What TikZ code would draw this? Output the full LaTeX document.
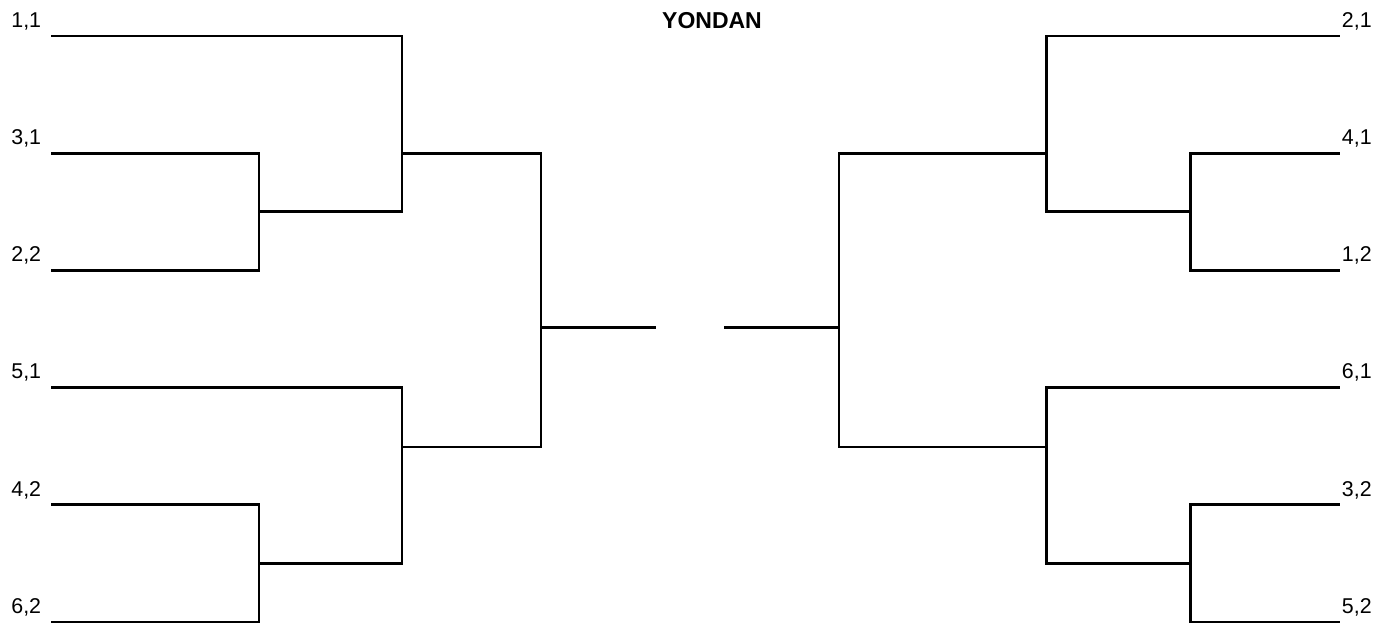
\documentclass[tikz,border=0pt]{standalone}
\usepackage{fontspec}
\setmainfont{Liberation Sans}
\begin{document}
\begin{tikzpicture}[x=0.5pt,y=-0.5pt,
  br/.style={line width=1.45pt,line join=miter,black},
  lbl/.style={inner sep=0pt,font=\fontsize{10.7pt}{12pt}\selectfont},
  lleft/.style={lbl,anchor=base west},
  ttl/.style={inner sep=0pt,anchor=base,font=\fontsize{11.5pt}{13pt}\selectfont\bfseries}]
\useasboundingbox (0,0) rectangle (1384,625);
% title
\node[ttl] (title) at (712,28.3) {YONDAN};
% left entry points
\coordinate (a1) at (51,36);
\coordinate (a2) at (51,153.2);
\coordinate (a3) at (51,270.4);
\coordinate (a4) at (51,387.6);
\coordinate (a5) at (51,504.8);
\coordinate (a6) at (51,622);
% right entry points
\coordinate (b1) at (1339.5,36);
\coordinate (b2) at (1339.5,153.2);
\coordinate (b3) at (1339.5,270.4);
\coordinate (b4) at (1339.5,387.6);
\coordinate (b5) at (1339.5,504.8);
\coordinate (b6) at (1339.5,622);
% junctions left
\coordinate (la1) at (259,211.8);
\coordinate (la2) at (259,563.4);
\coordinate (lb1) at (402,153.2);
\coordinate (lb2) at (402,447);
\coordinate (lc) at (541,327.5);
\coordinate (lend) at (656,327.5);
% junctions right
\coordinate (ra1) at (1190.5,211.8);
\coordinate (ra2) at (1190.5,563.4);
\coordinate (rb1) at (1046.5,153.2);
\coordinate (rb2) at (1046.5,447);
\coordinate (rc) at (839,327.5);
\coordinate (rend) at (724,327.5);
% labels
\node[lleft] (t11) at (11,27.3) {1,1};
\node[lleft] (t31) at (11,144.5) {3,1};
\node[lleft] (t22) at (11,261.7) {2,2};
\node[lleft] (t51) at (11,378.9) {5,1};
\node[lleft] (t42) at (11,496.1) {4,2};
\node[lleft] (t62) at (11,613.3) {6,2};
\node[lleft] (t21) at (1341.5,27.3) {2,1};
\node[lleft] (t41) at (1341.5,144.5) {4,1};
\node[lleft] (t12) at (1341.5,261.7) {1,2};
\node[lleft] (t61) at (1341.5,378.9) {6,1};
\node[lleft] (t32) at (1341.5,496.1) {3,2};
\node[lleft] (t52) at (1341.5,613.3) {5,2};
% left bracket
\draw[br] (a2) -| (la1 |- a3) -- (a3);
\draw[br] (la1) -- (la1 -| lb1) |- (a1);
\draw[br] (a5) -| (la2 |- a6) -- (a6);
\draw[br] (la2) -- (la2 -| lb1) |- (a4);
\draw[br] (lb1) -- (lb1 -| lc) -- (lb2 -| lc) -- (lb2);
\draw[br] (lc) -- (lend);
% right bracket
\draw[br] (b2) -| (ra1 |- b3) -- (b3);
\draw[br] (ra1) -- (ra1 -| rb1) |- (b1);
\draw[br] (b5) -| (ra2 |- b6) -- (b6);
\draw[br] (ra2) -- (ra2 -| rb1) |- (b4);
\draw[br] (rb1) -- (rb1 -| rc) -- (rb2 -| rc) -- (rb2);
\draw[br] (rc) -- (rend);
\end{tikzpicture}
\end{document}
